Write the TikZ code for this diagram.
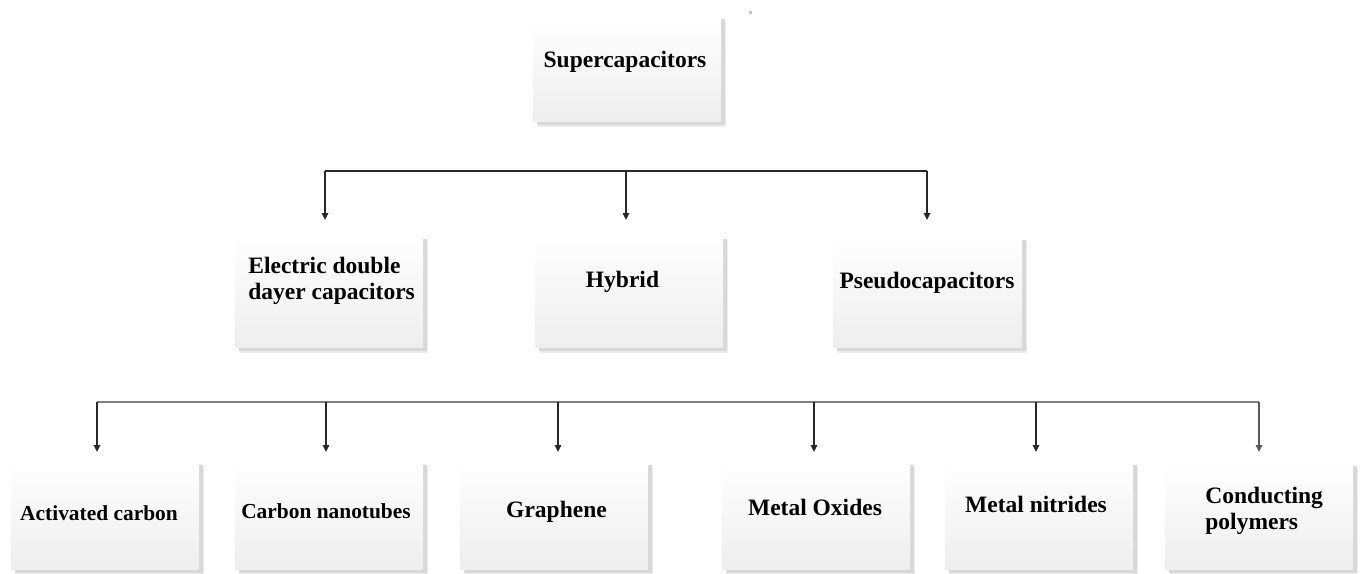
\documentclass[tikz,border=0pt]{standalone}
\usepackage{fontspec}
\setmainfont{Liberation Serif}
\usetikzlibrary{arrows.meta,shadows}

\definecolor{panelbottom}{RGB}{238,238,238}
\definecolor{shadowdark}{RGB}{216,216,216}
\definecolor{shadowlight}{RGB}{236,236,236}
\definecolor{busgray}{RGB}{128,128,128}
\definecolor{linedark}{RGB}{40,40,40}

\tikzset{
  panel/.style={rectangle, inner sep=0pt, draw=none,
    minimum width=94pt, minimum height=54pt,
    top color=white, bottom color=panelbottom,
    general shadow={fill=shadowlight, shadow xshift=2.6pt, shadow yshift=-3pt},
    general shadow={fill=shadowdark, shadow xshift=1.8pt, shadow yshift=-2.2pt}},
  caption/.style={inner sep=0pt, font=\bfseries\fontsize{11.75}{13}\selectfont},
  smallcaption/.style={caption, font=\bfseries\fontsize{10.7}{12}\selectfont},
  bus/.style={line width=0.65pt, draw=#1},
  feed/.style={line width=0.65pt, draw=#1, -{Triangle[width=3.2pt,length=3.4pt]}},
}

\begin{document}
\begin{tikzpicture}[x=0.5pt, y=-0.5pt]
  \useasboundingbox (0,0) rectangle (1360,573);

  % stray mark near the top
  \fill[gray!45] (749,11) rectangle (752,14);

  % ---- boxes ----
  \node[panel, minimum height=53pt] (super) at (627,68) {};
  \node[panel, minimum height=56pt] (edlc)   at (329,291) {};
  \node[panel, minimum height=56pt] (hybrid) at (629,291) {};
  \node[panel, minimum height=55.5pt, minimum width=94.5pt] (pseudo) at (927.5,291.5) {};

  \node[panel] (actc)  at (105,515) {};
  \node[panel] (cnt)   at (329,515) {};
  \node[panel] (graph) at (554,515) {};
  \node[panel] (mox)   at (816,515) {};
  \node[panel] (mnit)  at (1039,515) {};
  \node[panel, minimum height=53.5pt] (cpoly) at (1259,515.5) {};

  % ---- captions ----
  \node[caption, anchor=base] (tsuper)  at (625,67)  {Supercapacitors};
  \node[caption, anchor=base west] (tedlc) at (248,273)
    {\begin{tabular}[t]{@{}l@{}}Electric double\\dayer capacitors\end{tabular}};
  \node[caption, anchor=base] (thybrid) at (622.5,287) {Hybrid};
  \node[caption, anchor=base] (tpseudo) at (927,288)  {Pseudocapacitors};

  \node[smallcaption, anchor=base] (tactc)  at (99,520)   {Activated carbon};
  \node[smallcaption, anchor=base] (tcnt)   at (326,518)  {Carbon nanotubes};
  \node[caption, anchor=base] (tgraph) at (556.5,517) {Graphene};
  \node[caption, anchor=base] (tmox)   at (815,515)  {Metal Oxides};
  \node[caption, anchor=base] (tmnit)  at (1036,512) {Metal nitrides};
  \node[caption, anchor=base west] (tcpoly) at (1205,503)
    {\begin{tabular}[t]{@{}l@{}}Conducting\\polymers\end{tabular}};

  % ---- arrow tips above the boxes ----
  \coordinate (upper) at (626,171);
  \coordinate (lower) at (660,402);
  \coordinate (aedlc)   at (325,220);
  \coordinate (ahybrid) at (626,220);
  \coordinate (apseudo) at (927,220);
  \coordinate (aactc)  at (97,452);
  \coordinate (acnt)   at (326,452);
  \coordinate (agraph) at (558,452);
  \coordinate (amox)   at (814,452);
  \coordinate (amnit)  at (1036,452);
  \coordinate (acpoly) at (1259,452);

  % upper level: bus and drops
  \draw[bus=linedark] (aedlc |- upper) -- (apseudo |- upper);
  \foreach \t in {aedlc, ahybrid, apseudo}
    \draw[feed=linedark] (\t |- upper) -- (\t);

  % lower level: bus and drops
  \draw[bus=busgray] (aactc |- lower) -- (acpoly |- lower);
  \foreach \t in {aactc, acnt, agraph, amox, amnit}
    \draw[feed=linedark] (\t |- lower) -- (\t);
  \draw[feed=busgray!70!black] (acpoly |- lower) -- (acpoly);
\end{tikzpicture}
\end{document}
